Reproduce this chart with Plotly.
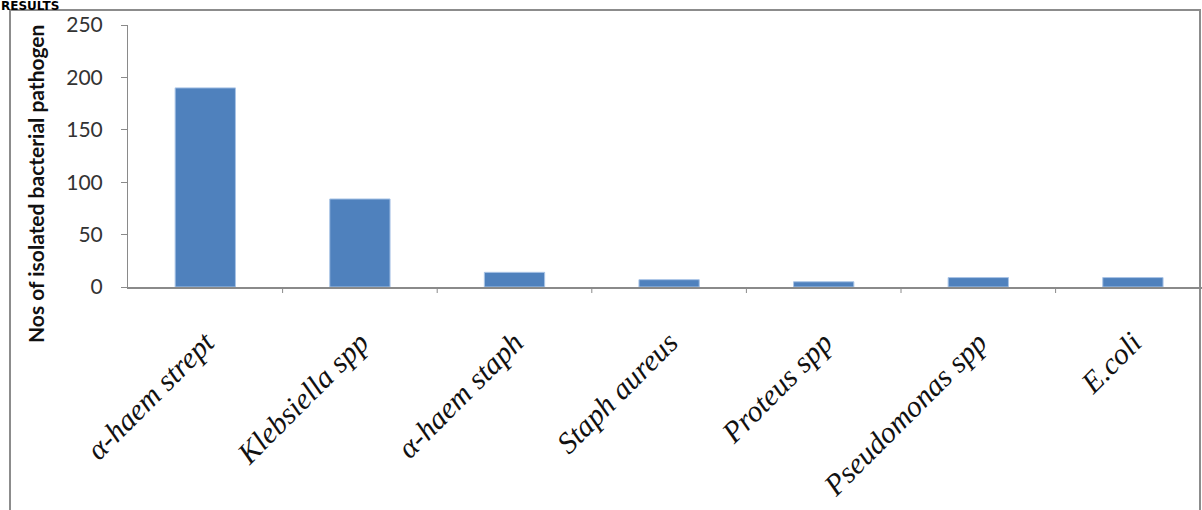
import plotly.graph_objects as go

# Isolated bacterial pathogens and their counts
pathogens = ["α-haem strept", "Klebsiella spp", "α-haem staph", "Staph aureus",
             "Proteus spp", "Pseudomonas spp", "E.coli"]
counts = [190, 84, 14, 7, 5, 9, 9]
y_ticks = [0, 50, 100, 150, 200, 250]

W, H = 1202, 510
L, R, T, B = 128, 0, 25, 223
pw, ph = W - L - R, H - T - B


def px_x(x):
    return (x - L) / pw


def px_y(y):
    return (H - B - y) / ph


fig = go.Figure(go.Bar(
    x=list(range(len(pathogens))),
    y=counts,
    marker=dict(color="#4F81BD", line=dict(color="#A9C4E6", width=1)),
    width=0.39,
))

fig.update_layout(
    width=W, height=H,
    margin=dict(l=L, r=R, t=T, b=B, autoexpand=False),
    paper_bgcolor="white", plot_bgcolor="white",
    showlegend=False,
    xaxis=dict(
        range=[-0.5, -0.5 + pw / 154.6],
        tickmode="array",
        tickvals=list(range(len(pathogens))),
        ticktext=[f"<i>{p}</i>" for p in pathogens],
        tickangle=-45,
        tickfont=dict(family="Liberation Serif", size=30, color="#111"),
        showline=True, linecolor="#8a8a8a", linewidth=2,
        ticks="", showgrid=False, zeroline=False,
        ticklabelstandoff=24, automargin=False,
    ),
    yaxis=dict(
        range=[0, 250],
        tickvals=y_ticks,
        tickfont=dict(family="Lato", size=21, color="#333"),
        showline=True, linecolor="#8a8a8a", linewidth=1,
        ticks="outside", ticklen=6, tickcolor="#8a8a8a",
        showgrid=False, zeroline=False,
        ticklabelstandoff=14, automargin=False,
    ),
)

# category boundary ticks below the x axis
shapes = []
for k in range(1, len(pathogens)):
    xb = k - 0.5
    shapes.append(dict(type="line", xref="x", yref="paper", x0=xb, x1=xb,
                       y0=0, y1=-6 / ph, line=dict(color="#8a8a8a", width=1)))
# chart border
shapes.append(dict(type="rect", xref="paper", yref="paper",
                   x0=px_x(10), x1=px_x(1200), y0=px_y(540), y1=px_y(10),
                   line=dict(color="#8c8c8c", width=2), layer="below"))
fig.update_layout(shapes=shapes)

fig.add_annotation(
    text="<b>Nos of isolated bacterial pathogen</b>",
    xref="paper", yref="paper", x=px_x(35), y=px_y(184),
    xanchor="center", yanchor="middle", textangle=-90, showarrow=False,
    font=dict(family="Lato", size=21, color="#111"),
)
fig.add_annotation(
    text="<b>RESULTS</b>",
    xref="paper", yref="paper", x=px_x(0), y=px_y(-2),
    xanchor="left", yanchor="top", showarrow=False, borderpad=0,
    font=dict(family="DejaVu Sans", size=12, color="#000"),
)

fig.write_html("out.html")
